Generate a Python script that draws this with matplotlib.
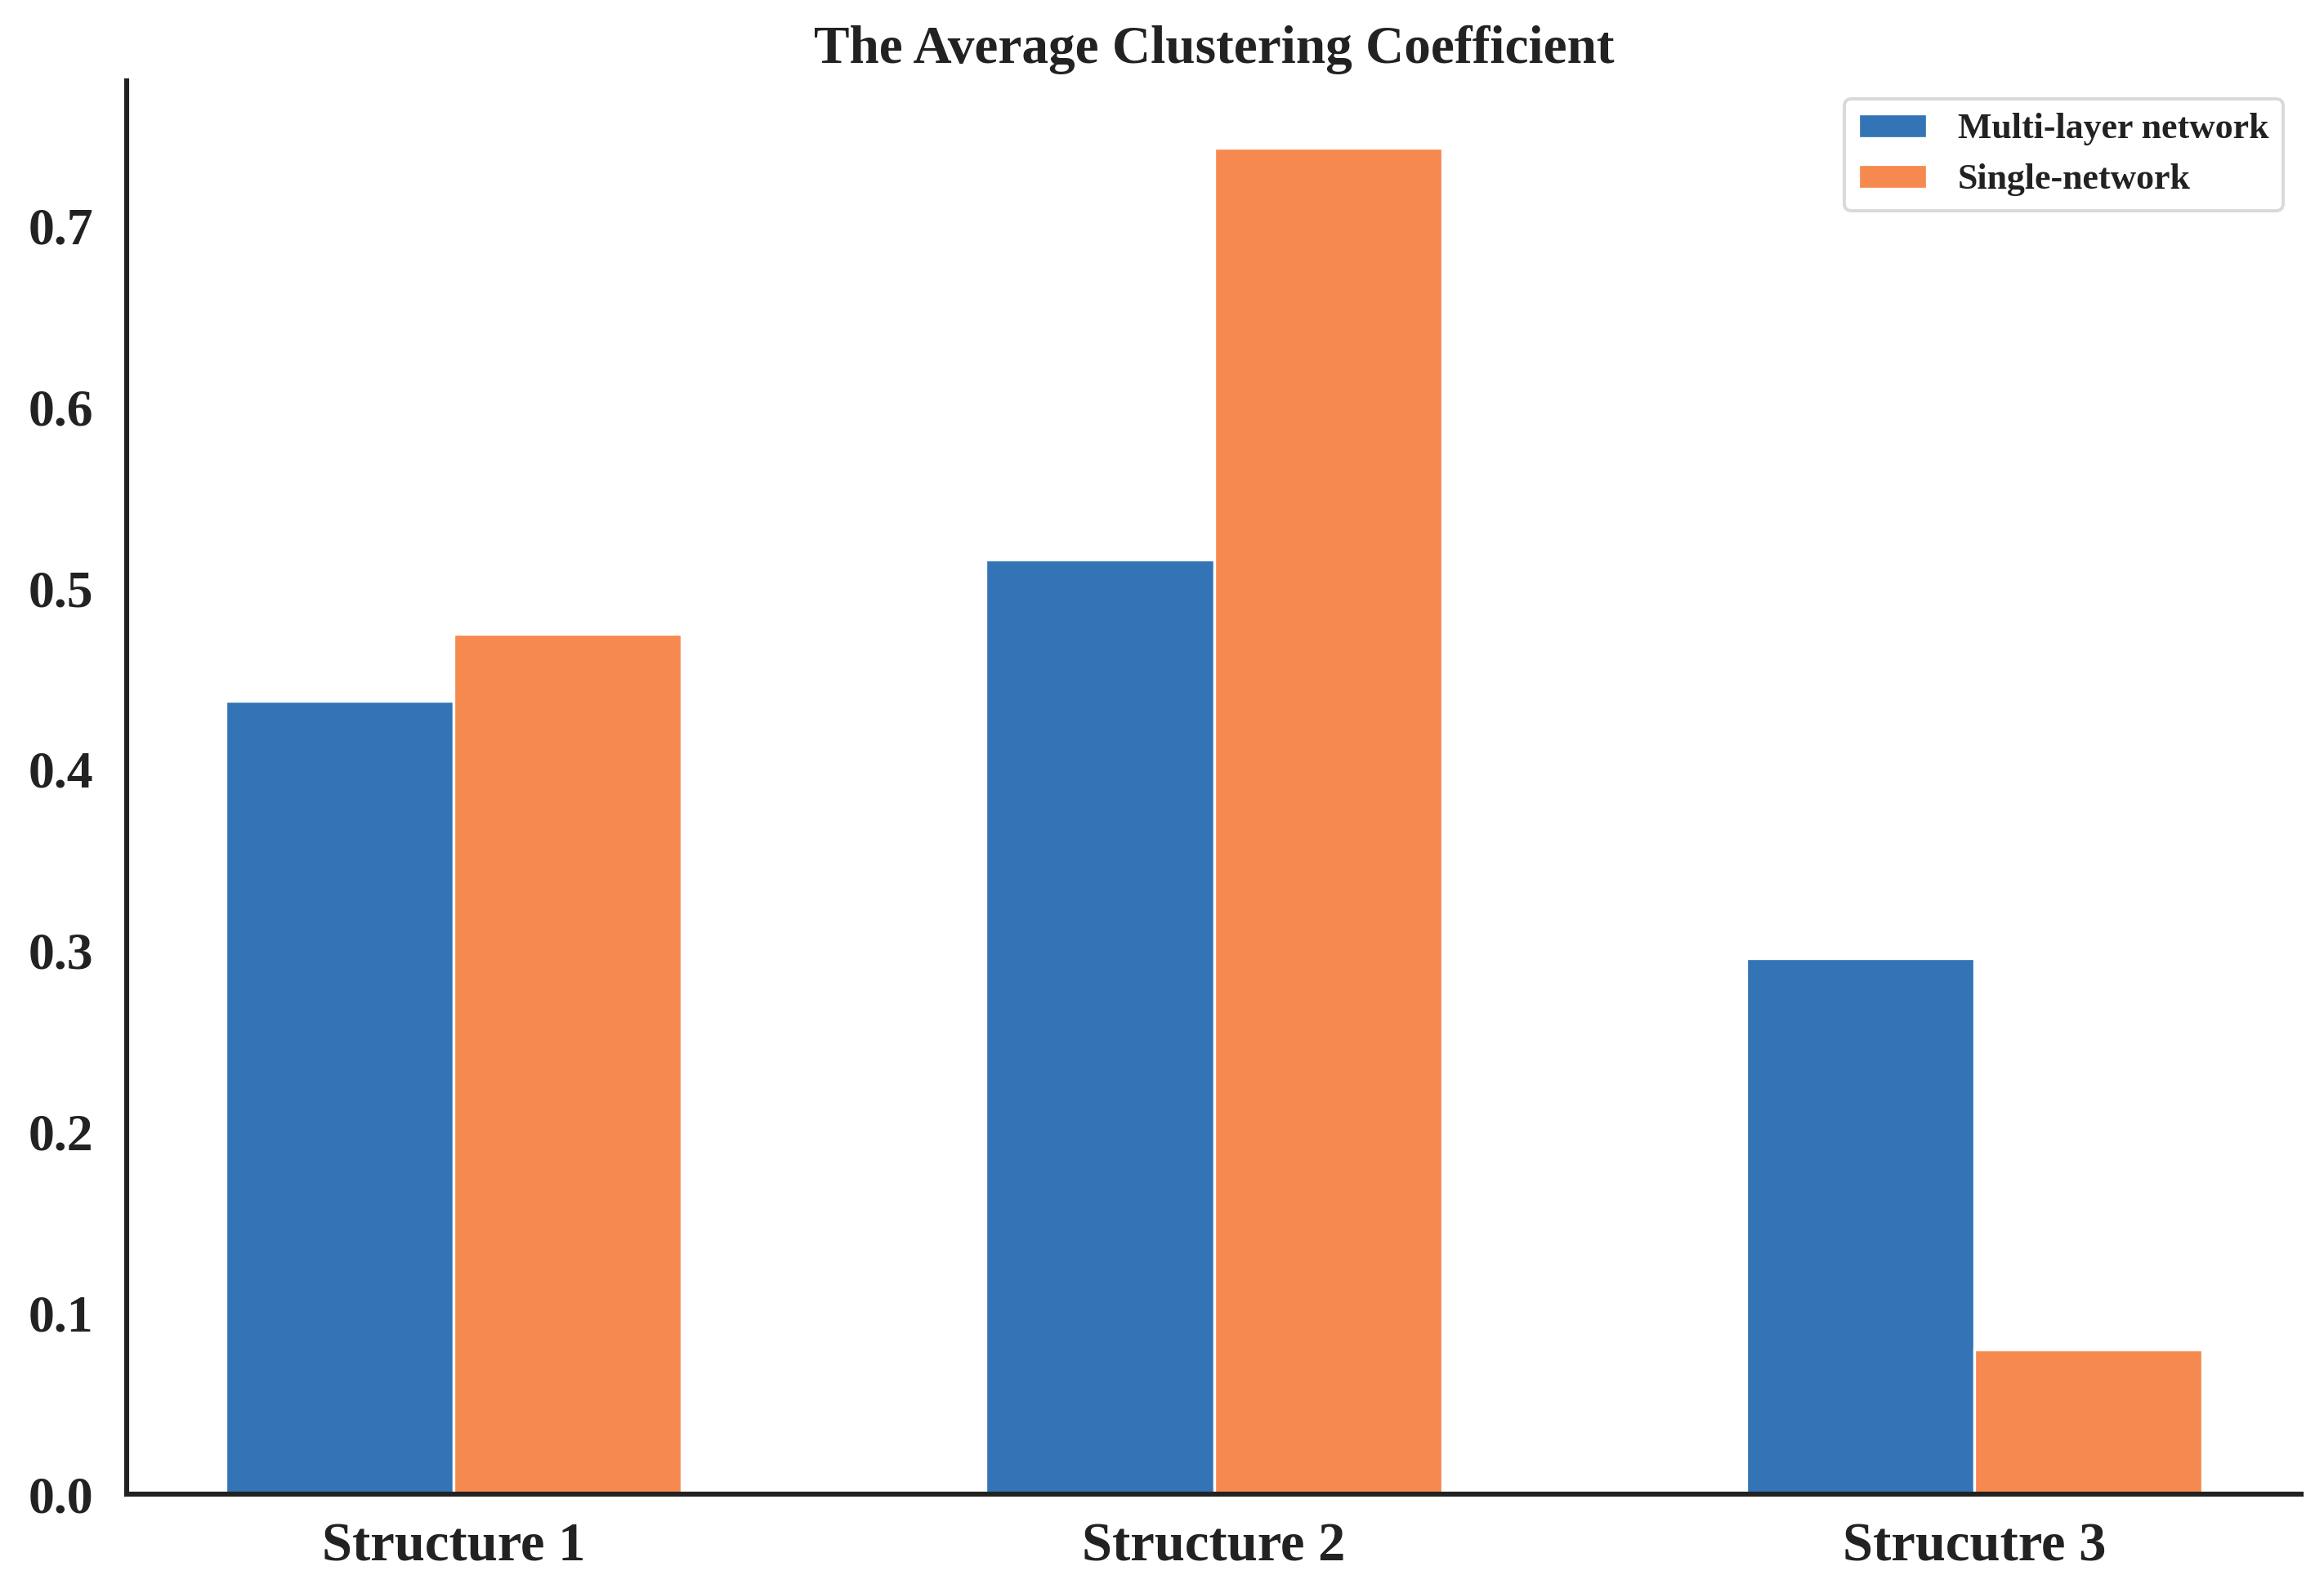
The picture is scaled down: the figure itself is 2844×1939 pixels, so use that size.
import numpy as np
import matplotlib
matplotlib.use('Agg')
import matplotlib.pyplot as plt
import seaborn as sns

structures = ['Structure 1', 'Structure 2', 'Strucutre 3']
multi_layer = [0.438, 0.516, 0.296]
single_net = [0.475, 0.743, 0.080]

sns.set_style('white')
plt.rcParams['font.family'] = ['Liberation Serif', 'DejaVu Serif']
plt.rcParams['font.weight'] = 'bold'

fig = plt.figure(figsize=(14.22, 9.695), dpi=200)
ax = fig.add_axes([0.0545, 0.0567, 0.9357, 0.8923])

x = np.arange(len(structures))
w = 0.3
ax.bar(x - w/2, multi_layer, w, color='#3274B5', edgecolor='white', linewidth=1.2,
       label='Multi-layer network')
ax.bar(x + w/2, single_net, w, color='#F6894F', edgecolor='white', linewidth=1.2,
       label='Single-network')

ax.set_xticks(x)
ax.set_xticklabels(structures, fontsize=24, fontweight='bold', color='#222222')
ax.tick_params(axis='x', pad=9)
ax.set_yticks(np.arange(0, 0.8, 0.1))
ax.yaxis.set_major_formatter(matplotlib.ticker.FormatStrFormatter('%.1f'))
ax.tick_params(axis='y', labelsize=23, labelcolor='#222222', pad=11)
for lab in ax.get_yticklabels():
    lab.set_fontweight('bold')

for s in ['top', 'right']:
    ax.spines[s].set_visible(False)
for s in ['left', 'bottom']:
    ax.spines[s].set_color('#222222')
    ax.spines[s].set_linewidth(2.2)

ax.set_title('The Average Clustering Coefficient', fontsize=23.5, fontweight='bold',
             color='#222222', pad=8)

leg = ax.legend(loc='upper right', fontsize=15.8, frameon=True,
                handlelength=1.9, handletextpad=0.87)
leg.get_frame().set_edgecolor('#d0d0d0')
leg.get_frame().set_linewidth(1.4)
for t in leg.get_texts():
    t.set_color('#222222')
    t.set_fontweight('bold')

fig.savefig('out.png', dpi=200)
